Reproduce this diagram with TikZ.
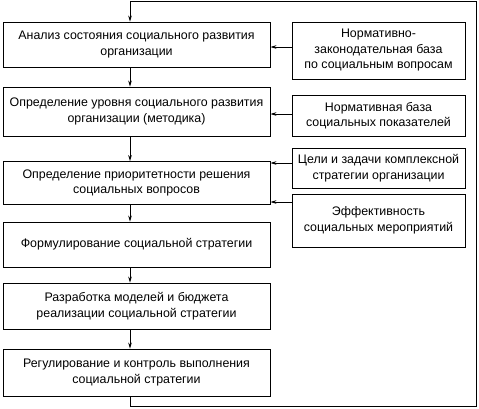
\documentclass[tikz,border=0pt]{standalone}
\usepackage{fontspec}
\setmainfont{Liberation Sans}
\usetikzlibrary{arrows.meta}
\begin{document}
\begin{tikzpicture}[x=1pt,y=-1pt,
  box/.style={draw,line width=0.8pt,inner sep=0pt,align=center,
    font=\fontsize{12.4}{15.5}\selectfont},
  arr/.style={line width=0.8pt,-{Stealth[length=6pt,width=3.6pt]}},
  ln/.style={line width=0.8pt}]
\useasboundingbox (0,0) rectangle (479,408);
% left column
\node[box,minimum width=267pt,minimum height=45pt] (l1) at (136.5,44.5) {Анализ состояния социального развития\\организации};
\node[box,minimum width=267pt,minimum height=49pt] (l2) at (136.5,111.5) {Определение уровня социального развития\\организации (методика)};
\node[box,minimum width=267pt,minimum height=43pt] (l3) at (136.5,183) {Определение приоритетности решения\\социальных вопросов};
\node[box,minimum width=267pt,minimum height=45pt] (l4) at (136.5,244.5) {Формулирование социальной стратегии};
\node[box,minimum width=267pt,minimum height=46pt] (l5) at (136.5,306) {Разработка моделей и бюджета\\реализации социальной стратегии};
\node[box,minimum width=267pt,minimum height=47pt] (l6) at (136.5,372.5) {Регулирование и контроль выполнения\\социальной стратегии};
% right column
\node[box,minimum width=173pt,minimum height=57pt] (r1) at (378.5,50.5) {Нормативно-\\законодательная база\\по социальным вопросам};
\node[box,minimum width=173pt,minimum height=41pt] (r2) at (378.5,115.5) {Нормативная база\\социальных показателей};
\node[box,minimum width=173pt,minimum height=40pt] (r3) at (378.5,168) {Цели и задачи комплексной\\стратегии организации};
\node[box,minimum width=173pt,minimum height=53pt] (r4) at (378.5,220.5) {Эффективность\\социальных мероприятий};
% vertical flow
\coordinate (cx) at (130,0);
\draw[arr] (l1.south -| cx) -- (l2.north -| cx);
\draw[arr] (l2.south -| cx) -- (l3.north -| cx);
\draw[arr] (l3.south -| cx) -- (l4.north -| cx);
\draw[arr] (l4.south -| cx) -- (l5.north -| cx);
\draw[arr] (l5.south -| cx) -- (l6.north -| cx);
% feedback loop
\coordinate (fb1) at (130,406);
\coordinate (fb2) at (476,406);
\coordinate (fb3) at (476,1);
\coordinate (fb4) at (130,1);
\draw[ln] (l6.south -| cx) -- (fb1) -- (fb2) -- (fb3) -- (fb4);
\draw[arr] (fb4) -- (l1.north -| cx);
% right inputs
\coordinate (y1) at (0,47);
\coordinate (y2) at (0,114);
\coordinate (y3) at (0,163);
\coordinate (y4) at (0,202);
\draw[arr] (r1.west |- y1) -- (l1.east |- y1);
\draw[arr] (r2.west |- y2) -- (l2.east |- y2);
\draw[arr] (r3.west |- y3) -- (l3.east |- y3);
\draw[arr] (r4.west |- y4) -- (l3.east |- y4);
\end{tikzpicture}
\end{document}
